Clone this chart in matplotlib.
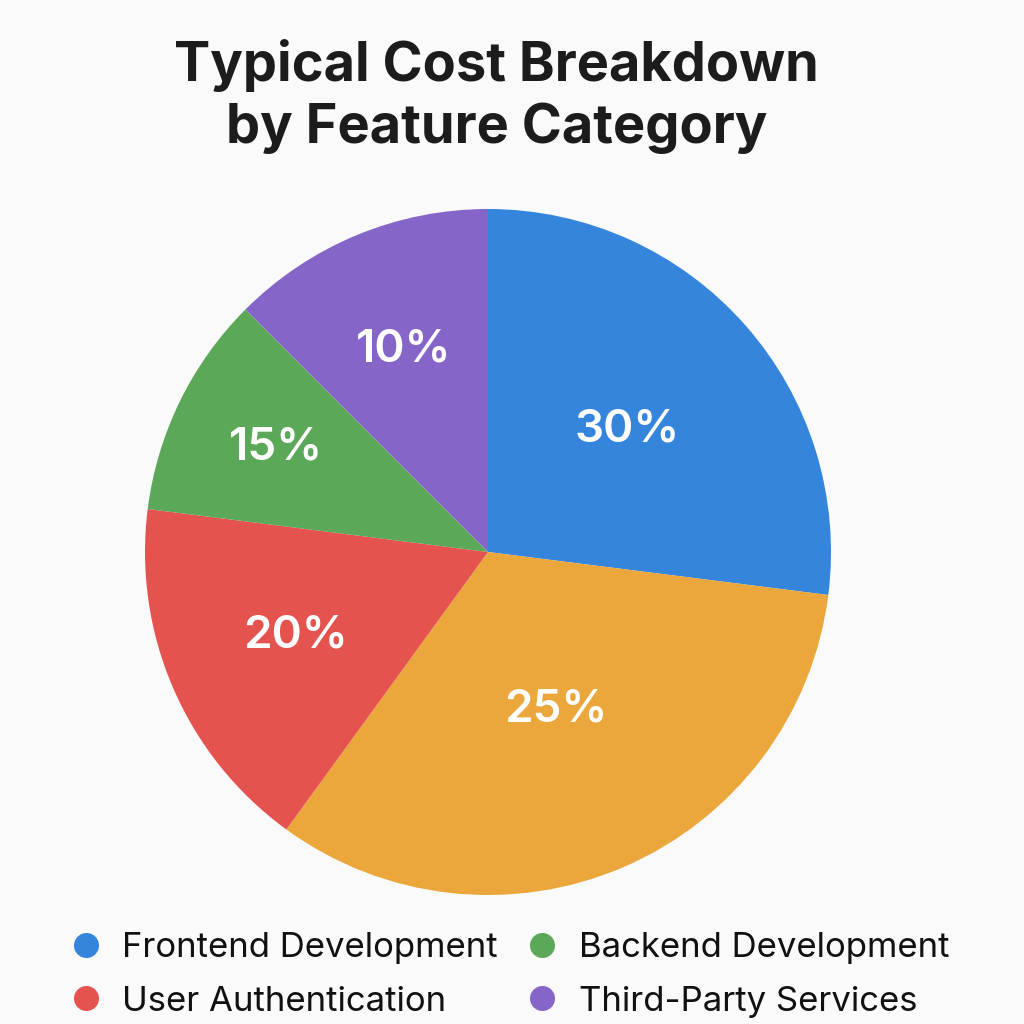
import numpy as np
import matplotlib
matplotlib.use('Agg')
from matplotlib import pyplot as plt
from matplotlib.lines import Line2D

# slice shares as drawn in the picture, and the printed labels
categories = ['Frontend Development', 'Other', 'User Authentication',
              'Backend Development', 'Third-Party Services']
shares = [27, 33, 17, 10.5, 12.5]
pct_labels = ['30%', '25%', '20%', '15%', '10%']
legend_order = [0, 2, 3, 4]

colors = ['#3585dc', '#eba63c', '#e5534f', '#5ba858', '#8566c8']
label_r = [0.54, 0.50, 0.61, 0.69, 0.64]
bg = '#fafafa'

fig = plt.figure(figsize=(10.24, 10.24), dpi=100, facecolor=bg)

ax = fig.add_axes([145/1024, 129/1024, 686/1024, 686/1024])
ax.set_facecolor(bg)
wedges, _ = ax.pie(shares, colors=colors, startangle=90, counterclock=False,
                   wedgeprops=dict(linewidth=0))
ax.set_xlim(-1, 1)
ax.set_ylim(-1, 1)
ax.set_aspect('equal')
ax.axis('off')

for w, lab, r in zip(wedges, pct_labels, label_r):
    ang = np.deg2rad((w.theta1 + w.theta2) / 2)
    ax.text(r * np.cos(ang), r * np.sin(ang), lab, color='white',
            fontsize=33, fontfamily='Inter', fontweight='semibold',
            ha='center', va='center')

fig.text(0.485, 0.906, 'Typical Cost Breakdown\nby Feature Category',
         ha='center', va='center', fontsize=39, fontweight='bold',
         fontfamily='Inter', color='#1c1c1c', linespacing=1.27)

handles = [Line2D([0], [0], marker='o', linestyle='none', markersize=18,
                  markerfacecolor=colors[i], markeredgewidth=0)
           for i in legend_order]
names = [categories[i] for i in legend_order]
fig.legend(handles, names, ncol=2, loc='center', bbox_to_anchor=(0.497, 0.048),
           frameon=False, prop={'family': 'Inter', 'size': 25},
           handletextpad=0.55, columnspacing=0.78, labelspacing=0.62,
           handlelength=1.0, labelcolor='#111111')

fig.savefig('out.png', dpi=100, facecolor=bg)
